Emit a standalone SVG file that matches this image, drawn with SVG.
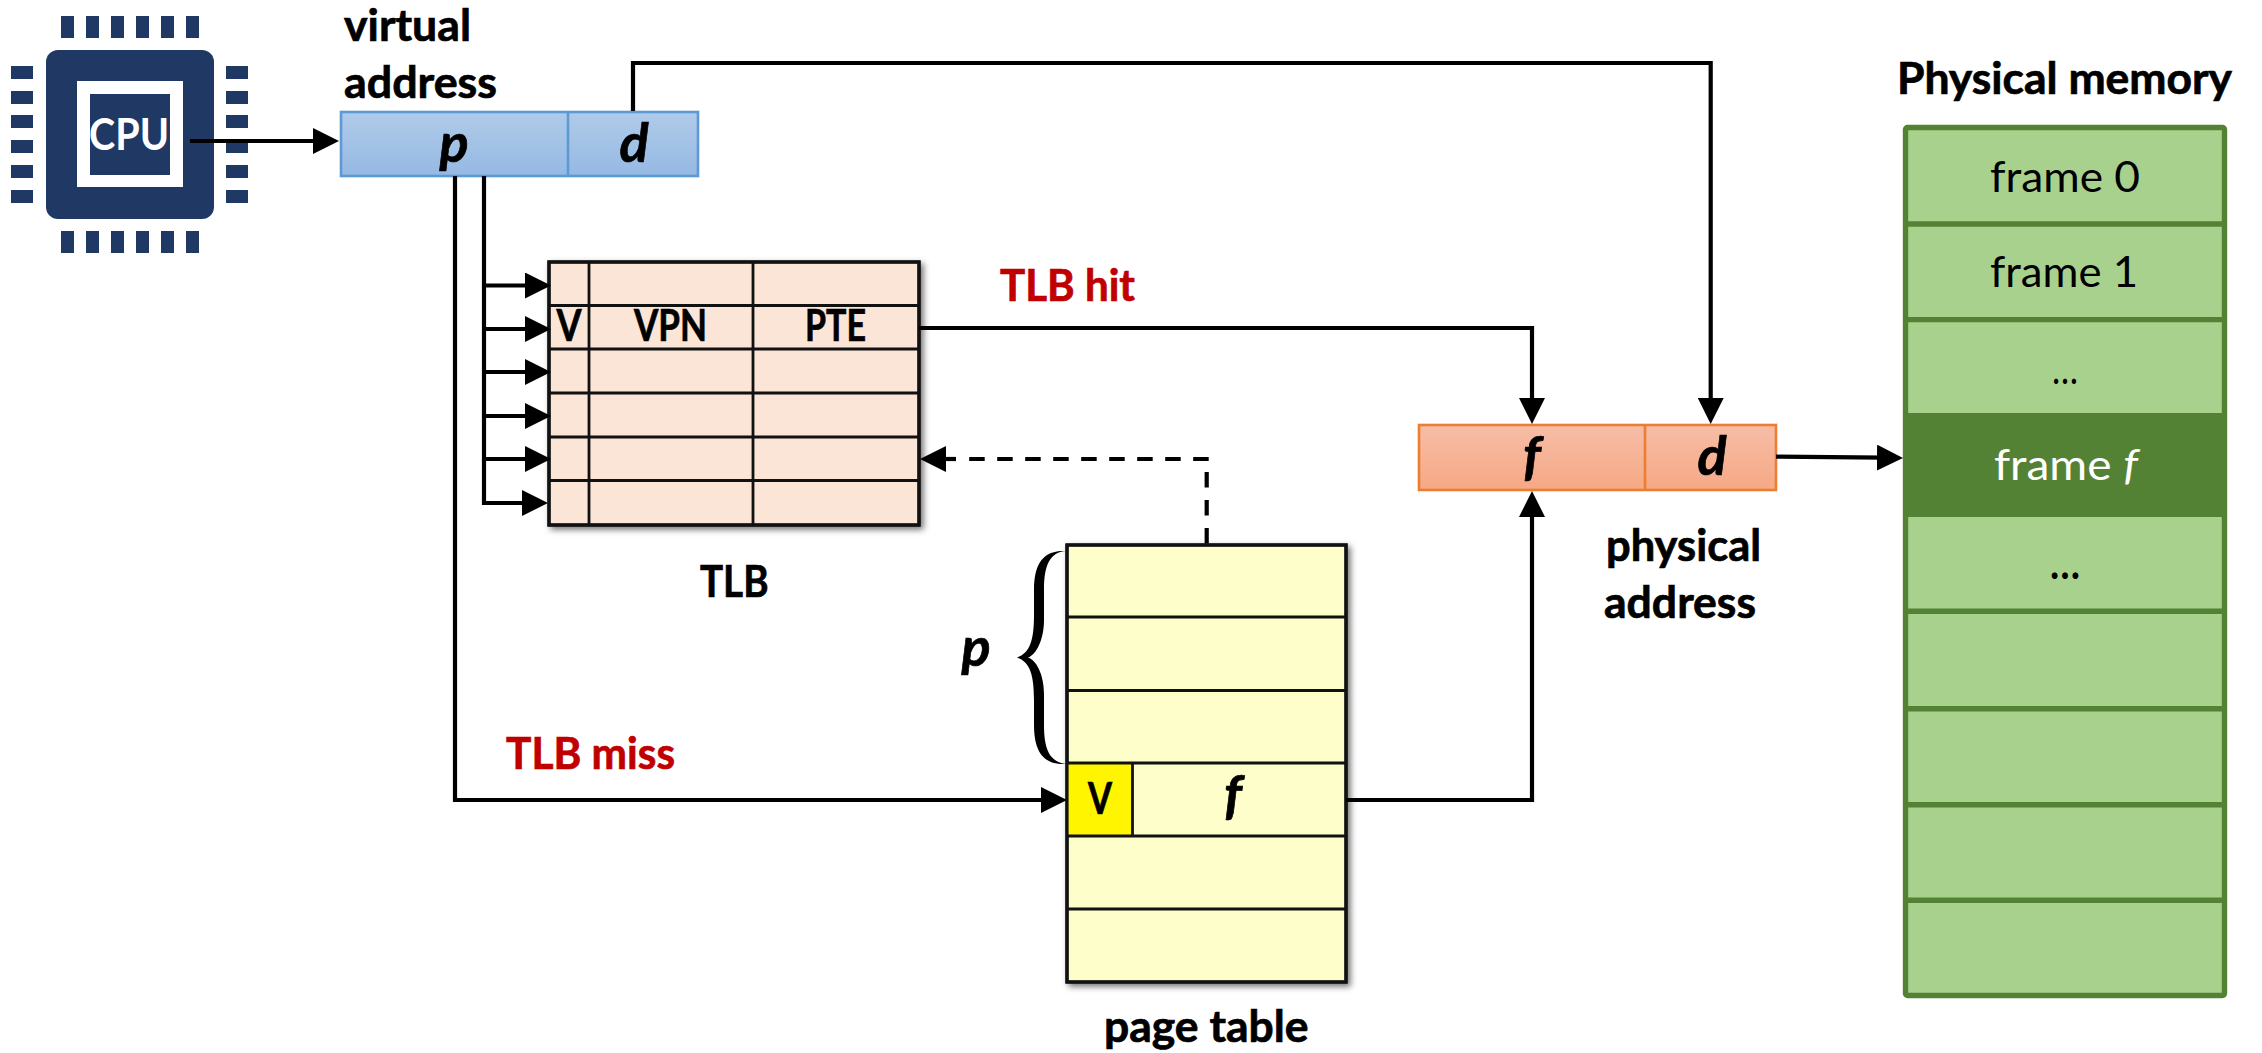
<svg xmlns="http://www.w3.org/2000/svg" width="2262" height="1053" viewBox="0 0 2262 1053">
<style>
text{font-family:"Lato","Liberation Sans",sans-serif;fill:#000}
.lb{font-size:44px;font-weight:700;stroke:#000;stroke-width:.7}
.bi{font-size:54px;font-weight:700;font-style:italic;text-anchor:middle;stroke:#000;stroke-width:.7}
.lb.red{fill:#c00000;stroke:#c00000}
.mem{font-size:43px;font-weight:400}
.conn{fill:none;stroke:#000;stroke-width:4.2;stroke-linejoin:miter}
.arr{marker-end:url(#ah)}
.dash{stroke-dasharray:15.5 12.5}
.pin{fill:#1f3864}
.grid{fill:none;stroke:#111;stroke-width:2.8}
.box{stroke:#111;stroke-width:3.2}
</style>
<defs>
<marker id="ah" markerUnits="userSpaceOnUse" markerWidth="26" markerHeight="26" refX="6" refY="13" orient="auto"><path d="M0 0L26 13L0 26z" fill="#000"/></marker>
<linearGradient id="gv" x1="0" y1="0" x2="0" y2="1"><stop offset="0" stop-color="#b0cbe9"/><stop offset="1" stop-color="#95b9e3"/></linearGradient>
<linearGradient id="gp" x1="0" y1="0" x2="0" y2="1"><stop offset="0" stop-color="#f6bda7"/><stop offset="1" stop-color="#f6a985"/></linearGradient>
<filter id="sh" x="-5%" y="-5%" width="112%" height="112%"><feDropShadow dx="3" dy="3" stdDeviation="3" flood-color="#000" flood-opacity="0.55"/></filter>
</defs>
<rect width="2262" height="1053" fill="#fff"/>

<g id="cpu">
<rect x="46" y="50" width="168" height="169" rx="12" fill="#1f3864"/>
<rect x="77" y="81" width="106" height="106" fill="#fff"/>
<rect x="90" y="94" width="80" height="81" fill="#1f3864"/>
<g class="pin">
<rect x="61" y="16" width="13" height="22"/><rect x="86" y="16" width="13" height="22"/><rect x="111" y="16" width="13" height="22"/><rect x="136" y="16" width="13" height="22"/><rect x="161" y="16" width="13" height="22"/><rect x="186" y="16" width="13" height="22"/>
<rect x="61" y="231" width="13" height="22"/><rect x="86" y="231" width="13" height="22"/><rect x="111" y="231" width="13" height="22"/><rect x="136" y="231" width="13" height="22"/><rect x="161" y="231" width="13" height="22"/><rect x="186" y="231" width="13" height="22"/>
<rect x="11" y="66" width="22" height="13"/><rect x="11" y="91" width="22" height="13"/><rect x="11" y="115" width="22" height="13"/><rect x="11" y="140" width="22" height="13"/><rect x="11" y="165" width="22" height="13"/><rect x="11" y="190" width="22" height="13"/>
<rect x="226" y="66" width="22" height="13"/><rect x="226" y="91" width="22" height="13"/><rect x="226" y="115" width="22" height="13"/><rect x="226" y="140" width="22" height="13"/><rect x="226" y="165" width="22" height="13"/><rect x="226" y="190" width="22" height="13"/>
</g>
<text x="89" y="150" font-size="44" font-weight="700" style="fill:#fff" textLength="80" lengthAdjust="spacingAndGlyphs">CPU</text>
</g>

<g id="virtual-address">
<text class="lb" x="344" y="41" textLength="127" lengthAdjust="spacingAndGlyphs">virtual</text>
<text class="lb" x="344" y="98" textLength="153" lengthAdjust="spacingAndGlyphs">address</text>
<rect x="341" y="112" width="357" height="64" fill="url(#gv)" stroke="#5b9bd5" stroke-width="2.6"/>
<path d="M568 112V176" stroke="#5b9bd5" stroke-width="2.6"/>
<text class="bi" x="454" y="162">p</text>
<text class="bi" x="634" y="162">d</text>
</g>

<g id="tlb">
<rect x="549" y="262" width="370" height="263" fill="#fbe5d6" class="box" filter="url(#sh)"/>
<path class="grid" d="M549 305.5H919M549 349H919M549 393H919M549 437H919M549 480.5H919M589 262V525M753 262V525"/>
<rect x="549" y="262" width="370" height="263" fill="none" class="box"/>
<text class="lb" x="556.5" y="341" textLength="25" lengthAdjust="spacingAndGlyphs">V</text>
<text class="lb" x="634" y="341" textLength="73" lengthAdjust="spacingAndGlyphs">VPN</text>
<text class="lb" x="805" y="341" textLength="61" lengthAdjust="spacingAndGlyphs">PTE</text>
<text class="lb" x="700" y="597" textLength="68.5" lengthAdjust="spacingAndGlyphs">TLB</text>
<text class="lb red" x="1000" y="300.5" textLength="135" lengthAdjust="spacingAndGlyphs">TLB hit</text>
</g>

<g id="page-table">
<rect x="1067" y="545" width="279" height="437" fill="#fefecb" class="box" filter="url(#sh)"/>
<rect x="1067" y="763" width="65.5" height="73" fill="#fff500"/>
<path class="grid" d="M1067 617H1346M1067 690.5H1346M1067 763H1346M1067 836H1346M1067 909H1346M1132.5 763V836"/>
<rect x="1067" y="545" width="279" height="437" fill="none" class="box"/>
<text class="lb" x="1088" y="814" textLength="24" lengthAdjust="spacingAndGlyphs">V</text>
<text class="bi" x="1233" y="814">f</text>
<text class="lb" x="1104" y="1042" textLength="204.5" lengthAdjust="spacingAndGlyphs">page table</text>
<path d="M1066 551C1050 552 1044 565 1044 590L1044 620C1044 640 1036 655 1028 657.5C1036 660 1044 674 1044 694L1044 725C1044 750 1050 762 1066 764C1046 765 1034 755 1034 725L1034 700C1034 675 1030 662 1017 657.5C1030 653 1034 640 1034 615L1034 590C1034 560 1046 550 1066 551Z" fill="#000"/>
<text class="bi" x="976" y="666">p</text>
<text class="lb red" x="506" y="769" textLength="169" lengthAdjust="spacingAndGlyphs">TLB miss</text>
</g>

<g id="physical-address">
<rect x="1419" y="425" width="357" height="65" fill="url(#gp)" stroke="#ed7d31" stroke-width="2.6"/>
<path d="M1645 425V490" stroke="#ed7d31" stroke-width="2.6"/>
<text class="bi" x="1532" y="475">f</text>
<text class="bi" x="1712" y="475">d</text>
<text class="lb" x="1606" y="561" textLength="155" lengthAdjust="spacingAndGlyphs">physical</text>
<text class="lb" x="1604" y="618" textLength="152" lengthAdjust="spacingAndGlyphs">address</text>
</g>

<g id="physical-memory">
<text class="lb" x="1897" y="93.5" textLength="335" lengthAdjust="spacingAndGlyphs">Physical memory</text>
<rect x="1905.5" y="127.5" width="319" height="868" rx="2" fill="#a9d18e" stroke="#548235" stroke-width="5.4"/>
<path d="M1905 224h320M1905 319.6h320M1905 611.3h320M1905 708.7h320M1905 804.7h320M1905 900.3h320" stroke="#548235" stroke-width="5.4" fill="none"/>
<rect x="1903" y="413" width="324" height="104" fill="#548235"/>
<text class="mem" x="1990" y="192" textLength="150" lengthAdjust="spacingAndGlyphs">frame 0</text>
<text class="mem" x="1990" y="286.5" textLength="148" lengthAdjust="spacingAndGlyphs">frame 1</text>
<text class="mem" x="2052" y="384" textLength="26" lengthAdjust="spacingAndGlyphs">…</text>
<text class="mem" x="1994" y="480" textLength="144" lengthAdjust="spacingAndGlyphs" style="fill:#fff">frame <tspan font-style="italic" style="fill:#fff">f</tspan></text>
<text class="mem" x="2050" y="578.5" style="font-weight:700" textLength="30" lengthAdjust="spacingAndGlyphs">…</text>
</g>

<g id="connectors">
<path class="conn arr" d="M190 141H319"/>
<path class="conn arr" d="M455 176V800H1047"/>
<path class="conn arr" d="M484 176V503H528"/>
<path class="conn arr" d="M482 285.5H531"/>
<path class="conn arr" d="M482 329H531"/>
<path class="conn arr" d="M482 372H531"/>
<path class="conn arr" d="M482 416H531"/>
<path class="conn arr" d="M482 459H531"/>
<path class="conn arr" d="M633 111V63H1710.7V404"/>
<path class="conn arr" d="M919 328H1532V404"/>
<path class="conn arr" d="M1346 800H1532V511"/>
<path class="conn arr" d="M1776 456.7L1883 457.7"/>
<path class="conn dash" d="M1208.7 459H957"/>
<path class="conn arr" d="M956 459H940"/>
<path class="conn dash" d="M1206.7 472V544"/>
</g>
</svg>
